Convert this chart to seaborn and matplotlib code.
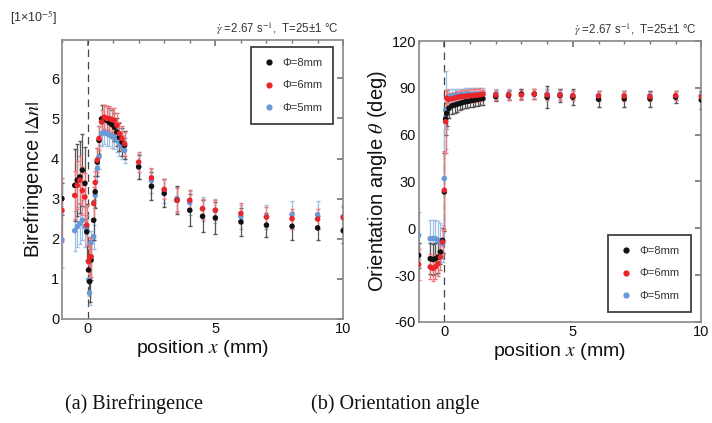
import pandas as pd
import matplotlib.pyplot as plt
from matplotlib.lines import Line2D
import seaborn as sns

sns.set_theme(style="white")
plt.rcParams["font.family"] = ["Liberation Sans", "DejaVu Sans"]
plt.rcParams["mathtext.fontset"] = "stix"
plt.rcParams["axes.unicode_minus"] = False
plt.rcParams["text.color"] = "#111111"
plt.rcParams["axes.labelcolor"] = "#111111"
plt.rcParams["xtick.color"] = "#111111"
plt.rcParams["ytick.color"] = "#111111"

# --- datos: birrefringencia ---
xb = [-1.0, -0.5, -0.4, -0.3, -0.2, -0.1, -0.03, 0.04, 0.08, 0.14, 0.24, 0.3, 0.38, 0.45,
      0.55, 0.65, 0.75, 0.85, 0.95, 1.05, 1.15, 1.25, 1.35, 1.45,
      2, 2.5, 3, 3.5, 4, 4.5, 5, 6, 7, 8, 9, 10]
bir_8 = [3.0, 3.33, 3.46, 3.54, 3.71, 3.38, 2.17, 1.22, 0.93, 1.47, 2.46, 3.17, 3.91, 4.45,
         4.99, 4.99, 4.95, 4.9, 4.85, 4.78, 4.66, 4.53, 4.41, 4.33,
         3.79, 3.31, 3.13, 2.96, 2.71, 2.56, 2.52, 2.42, 2.34, 2.31, 2.27, 2.20]
bir_6 = [2.71, 3.08, 3.33, 3.46, 3.2, 3.04, 2.34, 1.43, 1.55, 1.55, 2.88, 3.4, 3.96, 4.5,
         4.91, 5.03, 5.0, 5.0, 4.97, 4.95, 4.83, 4.62, 4.5, 4.37,
         3.91, 3.52, 3.23, 2.96, 2.96, 2.75, 2.71, 2.63, 2.54, 2.50, 2.49, 2.53]
bir_5 = [1.97, 2.2, 2.3, 2.38, 2.46, 2.3, 2.2, 0.97, 0.65, 1.9, 2.05, 3.08, 3.75, 4.04,
         4.62, 4.66, 4.62, 4.6, 4.56, 4.53, 4.45, 4.37, 4.28, 4.2,
         3.8, 3.45, 3.2, 3.0, 2.9, 2.75, 2.7, 2.55, 2.55, 2.6, 2.6, 2.55]
bir_8_err = [0.4, 0.9, 0.9, 0.9, 0.9, 0.9, 0.7, 0.6, 0.5, 0.5, 0.5, 0.4, 0.35, 0.35,
             0.35, 0.35, 0.35, 0.35, 0.35, 0.35, 0.35, 0.35, 0.35, 0.35,
             0.3, 0.35, 0.35, 0.35, 0.4, 0.4, 0.4, 0.35, 0.3, 0.35, 0.3, 0.3]
bir_6_err = [0.8, 0.6, 0.6, 0.6, 0.6, 0.6, 0.5, 0.5, 0.5, 0.5, 0.4, 0.3, 0.3, 0.3,
             0.3, 0.3, 0.3, 0.3, 0.3, 0.3, 0.3, 0.3, 0.3, 0.3,
             0.25, 0.25, 0.25, 0.3, 0.25, 0.25, 0.25, 0.25, 0.25, 0.25, 0.25, 0.25]
bir_5_err = [0.7, 0.5, 0.5, 0.5, 0.5, 0.5, 0.4, 0.4, 0.3, 0.3, 0.3, 0.3, 0.3, 0.3,
             0.3, 0.3, 0.3, 0.3, 0.3, 0.3, 0.3, 0.3, 0.3, 0.3,
             0.3, 0.3, 0.3, 0.3, 0.3, 0.3, 0.3, 0.3, 0.3, 0.35, 0.35, 0.3]

# --- datos: ángulo de orientación ---
xo = [-1.0, -0.55, -0.45, -0.35, -0.25, -0.15, -0.07, 0.0, 0.05, 0.09, 0.18, 0.3, 0.4, 0.5,
      0.6, 0.7, 0.8, 0.9, 1.0, 1.1, 1.2, 1.3, 1.4, 1.5,
      2, 2.5, 3, 3.5, 4, 4.5, 5, 6, 7, 8, 9, 10]
ang_8 = [-17.3, -19.5, -20, -19.5, -18.5, -15.2, -7.7, 23.3, 70, 73.7, 76.9, 78.5, 79, 79.5,
         80, 80.5, 81, 81.3, 81.6, 82, 82.3, 82.6, 83, 83.2,
         84.4, 85, 86, 86, 84, 85, 84, 82.7, 83, 83, 84, 82.2]
ang_6 = [-23.1, -24.8, -25.7, -24.8, -22.7, -18.5, -8.8, 24.4, 68.3, 83.3, 82.7, 83, 83.5, 84,
         84.2, 84.5, 84.6, 84.8, 85, 85, 85.2, 85.4, 85.6, 85.9,
         85.4, 85.4, 85.4, 86.1, 85.4, 85.4, 85, 84.8, 84.8, 84.4, 85, 84.4]
ang_5 = [-4.5, -6.6, -6.6, -6.6, -7.6, -8.8, -9.9, 31.9, 75.8, 73.7, 84, 85, 85, 85.5,
         85.5, 85.5, 86, 86, 86, 86, 86, 86, 86, 86,
         86, 86, 86, 86, 86, 86, 85, 85, 85, 85, 85, 85]
ang_8_err = [8, 10, 10, 10, 10, 8, 8, 25, 10, 8, 6, 5, 5, 5, 4, 4, 4, 4, 4, 4, 4, 4, 4, 4,
             3, 3, 3, 3, 7, 4, 5, 5, 5, 5, 4, 6]
ang_6_err = [10, 8, 8, 8, 8, 8, 8, 25, 20, 5, 4, 4, 4, 4, 4, 4, 4, 4, 4, 4, 4, 4, 4, 3,
             3, 3, 3, 3, 3, 3, 3, 3, 3, 3, 3, 3]
ang_5_err = [15, 12, 12, 12, 12, 12, 12, 40, 25, 10, 5, 4, 4, 4, 4, 4, 4, 4, 4, 4, 4, 4, 4, 4,
             3, 3, 3, 3, 3, 3, 3, 3, 3, 3, 3, 3]

etiquetas = ["Φ=8mm", "Φ=6mm", "Φ=5mm"]
colores = {"Φ=8mm": "#111111", "Φ=6mm": "#e8262b", "Φ=5mm": "#6a9ad6"}
colores_err = {"Φ=8mm": "#555555", "Φ=6mm": "#f0767a", "Φ=5mm": "#9dbfe6"}
orden_dibujo = ["Φ=5mm", "Φ=8mm", "Φ=6mm"]


def armar_df(x, series, errores):
    filas = []
    for lab, ys, es in zip(etiquetas, series, errores):
        filas.append(pd.DataFrame({"x": x, "y": ys, "err": es, "serie": lab}))
    return pd.concat(filas, ignore_index=True)


df_b = armar_df(xb, [bir_8, bir_6, bir_5], [bir_8_err, bir_6_err, bir_5_err])
df_o = armar_df(xo, [ang_8, ang_6, ang_5], [ang_8_err, ang_6_err, ang_5_err])

fig = plt.figure(figsize=(7.12, 4.23), dpi=100)
ax1 = fig.add_axes([0.087, 0.246, 0.395, 0.659])
ax2 = fig.add_axes([0.588, 0.239, 0.397, 0.664])


def dibujar(ax, df):
    for lab in orden_dibujo:
        sub = df[df["serie"] == lab]
        ax.errorbar(sub["x"], sub["y"], yerr=sub["err"], fmt="none",
                    ecolor=colores_err[lab], elinewidth=0.9, capsize=1.5, zorder=2)
        sns.scatterplot(data=sub, x="x", y="y", color=colores[lab], s=16,
                        edgecolor="none", ax=ax, legend=False, zorder=3)
    ax.axvline(0, color="#444444", linestyle=(0, (6, 4)), linewidth=0.9, zorder=1)
    ax.set_xlim(-1, 10)
    ax.set_xticks([0, 5, 10])
    ax.set_xticks(range(-1, 11), minor=True)
    ax.tick_params(which="both", direction="in", top=True, right=True,
                   color="#777777", labelsize=10.5, pad=2)
    ax.tick_params(which="major", length=4)
    ax.tick_params(which="minor", length=2.5)
    for sp in ax.spines.values():
        sp.set_color("#888888")
        sp.set_linewidth(1.2)
    ax.set_xlabel("position $\\mathit{x}$ (mm)", fontsize=14, labelpad=2)
    ax.text(0.985, 1.01, "$\\dot{\\gamma}$ =2.67 s$^{-1}$,  T=25±1 °C",
            transform=ax.transAxes, ha="right", va="bottom", fontsize=8.3,
            color="#333333")


dibujar(ax1, df_b)
ax1.set_ylim(0, 6.95)
ax1.set_yticks(range(0, 7))
ax1.set_ylabel("Birefringence $|\\mathit{\\Delta n}|$", fontsize=14.5, labelpad=4)

dibujar(ax2, df_o)
ax2.set_ylim(-60, 120)
ax2.set_yticks(range(-60, 121, 30))
ax2.set_ylabel("Orientation angle $\\theta$ (deg)", fontsize=14.5, labelpad=2)

handles = [Line2D([], [], marker="o", linestyle="none", markersize=4.5,
                  markerfacecolor=colores[lab], markeredgecolor="none") for lab in etiquetas]
for ax, loc, anchor in [(ax1, "upper right", (0.965, 0.975)),
                        (ax2, "lower right", (0.962, 0.036))]:
    leg = ax.legend(handles, etiquetas, loc=loc, bbox_to_anchor=anchor, borderaxespad=0,
                    fontsize=8, labelspacing=1.1, borderpad=1.0, handletextpad=0.6,
                    handlelength=1.2, fancybox=False, frameon=True, labelcolor="#333333")
    leg.get_frame().set_edgecolor("#111111")
    leg.get_frame().set_linewidth(1.3)

fig.text(0.014, 0.935, "[1×10$^{-5}$]", fontsize=9, ha="left", va="bottom", color="#333333")
fig.text(134 / 712, 0.045, "(a) Birefringence", ha="center", va="center",
         family="Liberation Serif", fontsize=14.5)
fig.text(395 / 712, 0.045, "(b) Orientation angle", ha="center", va="center",
         family="Liberation Serif", fontsize=14.5)

fig.savefig("out.png", dpi=100)
